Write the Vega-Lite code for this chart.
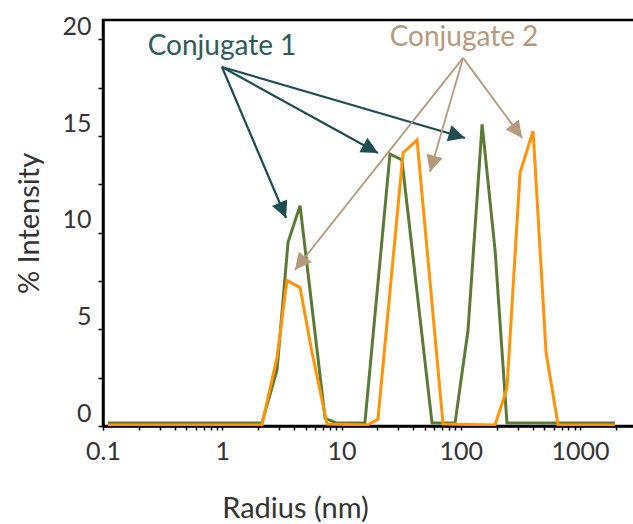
{
  "$schema": "https://vega.github.io/schema/vega-lite/v6.json",
  "width": 532,
  "height": 406,
  "autosize": {"type": "none"},
  "padding": {"left": 103, "top": 20, "right": 0, "bottom": 98},
  "background": "white",
  "config": {
    "view": {"stroke": "black", "strokeWidth": 2.5},
    "font": "Lato",
    "axis": {"grid": false}
  },
  "datasets": {
    "curves": [
      {"series": "Conjugate 1", "r": 0.11, "v": 0.15},
      {"series": "Conjugate 1", "r": 2.15, "v": 0.15},
      {"series": "Conjugate 1", "r": 2.88, "v": 2.9},
      {"series": "Conjugate 1", "r": 3.56, "v": 9.5},
      {"series": "Conjugate 1", "r": 4.49, "v": 11.4},
      {"series": "Conjugate 1", "r": 7.28, "v": 0.4},
      {"series": "Conjugate 1", "r": 9.16, "v": 0.15},
      {"series": "Conjugate 1", "r": 15.7, "v": 0.15},
      {"series": "Conjugate 1", "r": 25.5, "v": 14.07},
      {"series": "Conjugate 1", "r": 32.1, "v": 13.76},
      {"series": "Conjugate 1", "r": 57.4, "v": 0.15},
      {"series": "Conjugate 1", "r": 89.5, "v": 0.15},
      {"series": "Conjugate 1", "r": 115, "v": 4.95},
      {"series": "Conjugate 1", "r": 151, "v": 15.6},
      {"series": "Conjugate 1", "r": 194, "v": 9.07},
      {"series": "Conjugate 1", "r": 244, "v": 0.15},
      {"series": "Conjugate 1", "r": 1963, "v": 0.15},
      {"series": "Conjugate 2", "r": 0.11, "v": 0.05},
      {"series": "Conjugate 2", "r": 2.15, "v": 0.05},
      {"series": "Conjugate 2", "r": 2.88, "v": 3.56},
      {"series": "Conjugate 2", "r": 3.49, "v": 7.53},
      {"series": "Conjugate 2", "r": 4.49, "v": 7.16},
      {"series": "Conjugate 2", "r": 5.66, "v": 3.8},
      {"series": "Conjugate 2", "r": 7.56, "v": 0.1},
      {"series": "Conjugate 2", "r": 16.4, "v": 0.05},
      {"series": "Conjugate 2", "r": 20.2, "v": 0.35},
      {"series": "Conjugate 2", "r": 32.8, "v": 14.12},
      {"series": "Conjugate 2", "r": 43.0, "v": 14.8},
      {"series": "Conjugate 2", "r": 71.0, "v": 0.1},
      {"series": "Conjugate 2", "r": 194, "v": 0.05},
      {"series": "Conjugate 2", "r": 244, "v": 1.96},
      {"series": "Conjugate 2", "r": 314, "v": 13.1},
      {"series": "Conjugate 2", "r": 404, "v": 15.26},
      {"series": "Conjugate 2", "r": 519, "v": 3.8},
      {"series": "Conjugate 2", "r": 655, "v": 0.05},
      {"series": "Conjugate 2", "r": 1963, "v": 0.05}
    ],
    "arrows": [
      {"series": "Conjugate 1", "r0": 0.995, "v0": 18.57, "r1": 3.43, "v1": 10.76},
      {"series": "Conjugate 1", "r0": 0.995, "v0": 18.57, "r1": 20.2, "v1": 14.12},
      {"series": "Conjugate 1", "r0": 0.995, "v0": 18.57, "r1": 108.6, "v1": 14.9},
      {"series": "Conjugate 2", "r0": 104.5, "v0": 19.04, "r1": 4.07, "v1": 8.07},
      {"series": "Conjugate 2", "r0": 104.5, "v0": 19.04, "r1": 55.2, "v1": 13.14},
      {"series": "Conjugate 2", "r0": 104.5, "v0": 19.04, "r1": 326.6, "v1": 14.9}
    ],
    "labels": [
      {"series": "Conjugate 1", "r": 0.995, "v": 19.6},
      {"series": "Conjugate 2", "r": 106.4, "v": 20.07}
    ]
  },
  "layer": [
    {
      "data": {"name": "curves"},
      "mark": {"type": "line", "strokeWidth": 3, "clip": true},
      "encoding": {
        "x": {
          "field": "r", "type": "quantitative",
          "scale": {"type": "log", "domain": [0.1, 2890], "nice": false},
          "axis": {
            "title": "Radius (nm)",
            "values": [0.1,0.2,0.3,0.4,0.5,0.6,0.7,0.8,0.9,1,2,3,4,5,6,7,8,9,10,20,30,40,50,60,70,80,90,100,200,300,400,500,600,700,800,900,1000,2000],
            "labelExpr": "indexof([0.1,1,10,100,1000], datum.value) >= 0 ? format(datum.value, '~g') : ''",
            "tickSize": 4, "tickColor": "black", "tickWidth": 1.5,
            "domainColor": "black", "domainWidth": 2.5,
            "labelFont": "Lato", "labelFontSize": 25, "labelColor": "#333333",
            "labelPadding": 9, "labelFlush": false, "labelOverlap": false,
            "titleFont": "Lato", "titleFontSize": 29, "titleFontWeight": "normal", "titleColor": "#333333",
            "titleX": 192, "titleY": 82, "titleBaseline": "middle", "titleAnchor": null
          }
        },
        "y": {
          "field": "v", "type": "quantitative",
          "scale": {"domain": [0, 21], "nice": false},
          "axis": {
            "title": "% Intensity",
            "values": [0,2.5,5,7.5,10,12.5,15,17.5,20],
            "labelExpr": "datum.value % 5 == 0 ? datum.label : ''",
            "tickSize": 5, "tickColor": "black", "tickWidth": 1.5,
            "domainColor": "black", "domainWidth": 2.5,
            "labelFont": "Lato", "labelFontSize": 25, "labelColor": "#333333",
            "labelPadding": 7, "labelOffset": -13, "labelFlush": false, "labelOverlap": false,
            "titleFont": "Lato", "titleFontSize": 29, "titleFontWeight": "normal", "titleColor": "#333333",
            "titleX": -74, "titleY": 203, "titleBaseline": "middle", "titleAngle": -90
          }
        },
        "color": {
          "field": "series", "type": "nominal",
          "scale": {"domain": ["Conjugate 1", "Conjugate 2"], "range": ["#5b7a36", "#ff9408"]},
          "legend": null
        }
      }
    },
    {
      "data": {"name": "arrows"},
      "mark": {"type": "rule"},
      "encoding": {
        "x": {"field": "r0", "type": "quantitative"},
        "y": {"field": "v0", "type": "quantitative"},
        "x2": {"field": "r1"},
        "y2": {"field": "v1"},
        "stroke": {
          "field": "series", "type": "nominal",
          "scale": {"domain": ["Conjugate 1", "Conjugate 2"], "range": ["#1f4d4f", "#b39a7b"]},
          "legend": null
        },
        "strokeWidth": {
          "field": "series", "type": "nominal",
          "scale": {"domain": ["Conjugate 1", "Conjugate 2"], "range": [2.2, 1.8]},
          "legend": null
        }
      }
    },
    {
      "data": {"name": "arrows"},
      "transform": [
        {"calculate": "atan2((log(datum.r1) - log(datum.r0)) / log(10) * 119.25, (datum.v1 - datum.v0) * 19.33) * 180 / PI", "as": "heading"}
      ],
      "mark": {
        "type": "point", "filled": true, "opacity": 1,
        "shape": "M0,0 L-0.5,1 L0.5,1 Z", "size": 1100
      },
      "encoding": {
        "x": {"field": "r1", "type": "quantitative"},
        "y": {"field": "v1", "type": "quantitative"},
        "angle": {"field": "heading", "type": "quantitative", "scale": null},
        "fill": {
          "field": "series", "type": "nominal",
          "scale": {"domain": ["Conjugate 1", "Conjugate 2"], "range": ["#1f4d4f", "#b39a7b"]},
          "legend": null
        }
      }
    },
    {
      "data": {"name": "labels"},
      "mark": {"type": "text", "font": "Lato", "fontSize": 28, "baseline": "middle", "align": "center"},
      "encoding": {
        "x": {"field": "r", "type": "quantitative"},
        "y": {"field": "v", "type": "quantitative"},
        "text": {"field": "series"},
        "color": {
          "field": "series", "type": "nominal",
          "scale": {"domain": ["Conjugate 1", "Conjugate 2"], "range": ["#2b5c5a", "#b8997a"]},
          "legend": null
        }
      }
    }
  ],
  "resolve": {"scale": {"color": "independent", "stroke": "independent", "fill": "independent"}}
}
